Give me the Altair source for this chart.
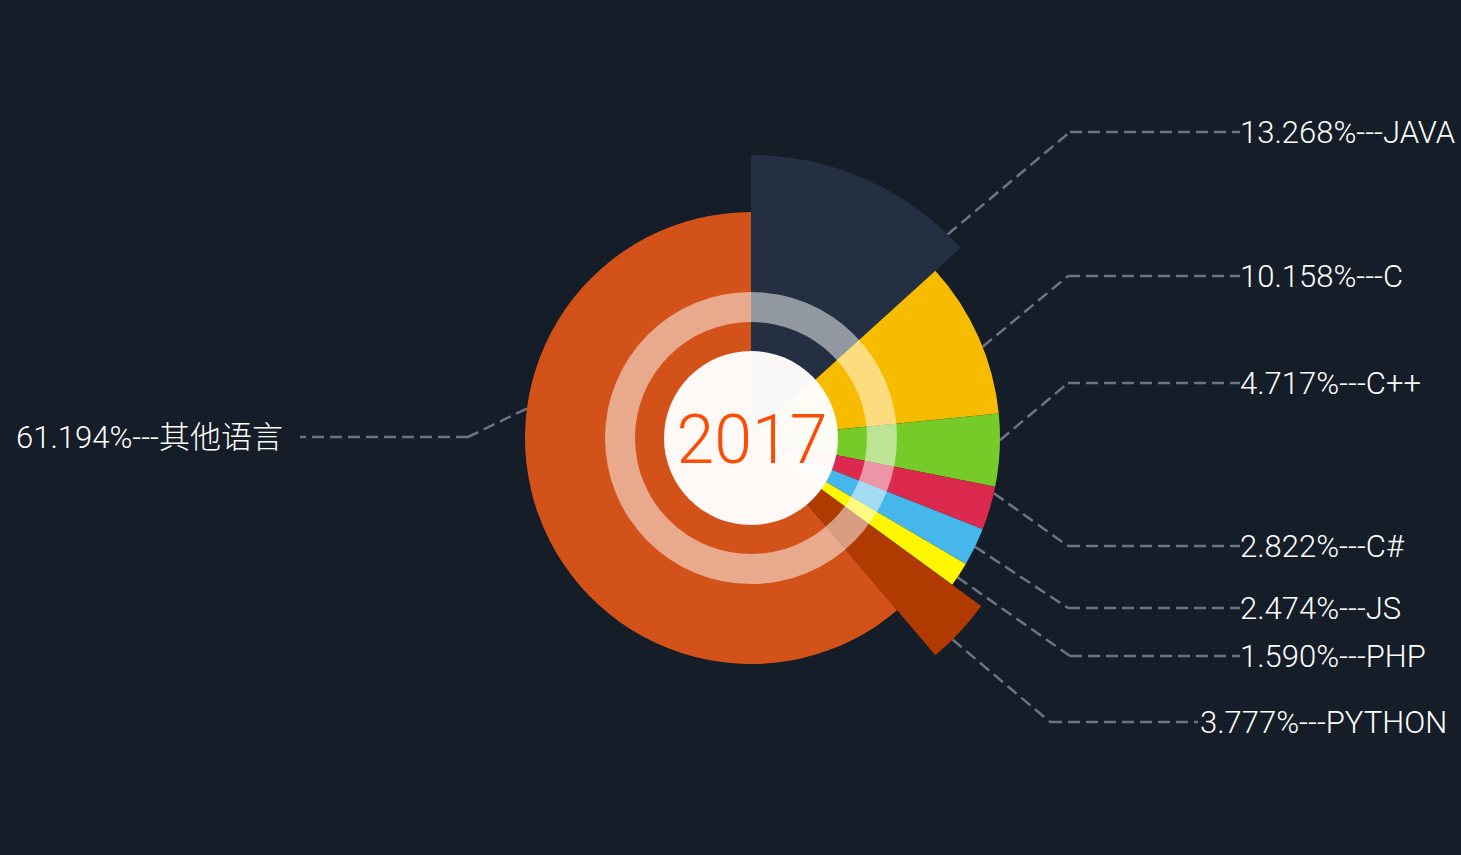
import math
import altair as alt
import pandas as pd

# ---------------- data ----------------
languages = ["JAVA", "C", "C++", "C#", "JS", "PHP", "PYTHON", "其他语言"]
shares = [13.268, 10.158, 4.717, 2.822, 2.474, 1.590, 3.777, 61.194]
center_label = "2017"

# ---------------- style / layout ----------------
colors = ["#243042", "#f7bb00", "#76cb28", "#db2a4d", "#46b7ea", "#fff700", "#b03a00", "#d35219"]
outer_radius = [283, 249, 249, 249, 249, 249, 285, 226]
anchor_deg = [44, 68.5, 90.5, 102.8, 115.9, 124, 135, 277.5]
label_line_y = [132, 276, 383, 546, 608, 656, 722, 437]
knee_x = [1070, 1068, 1068, 1068, 1068, 1070, 1050, 468]
line_end_x = [1240, 1240, 1240, 1240, 1240, 1240, 1198, 300]
text_x = [1240, 1240, 1240, 1240, 1240, 1240, 1200, 16]

W, H = 1461, 855
CX, CY = 751, 438
BG = "#151d28"
FONT = "Roboto, Noto Sans CJK SC, sans-serif"
LABEL_SIZE = 31

slices = pd.DataFrame({
    "idx": list(range(len(languages))),
    "language": languages,
    "share": shares,
    "color": colors,
    "r": outer_radius,
})

# leader line segments
segs = []
for i in range(len(languages)):
    a = math.radians(anchor_deg[i])
    sx = CX + outer_radius[i] * math.sin(a)
    sy = CY - outer_radius[i] * math.cos(a)
    ky = label_line_y[i]
    segs.append({"x": sx, "y": sy, "x2": knee_x[i], "y2": ky})
    segs.append({"x": knee_x[i], "y": ky, "x2": line_end_x[i], "y2": ky})
segs = pd.DataFrame(segs)

labels = pd.DataFrame({
    "text": [f"{s:.3f}%---{n}" for s, n in zip(shares, languages)],
    "x": text_x,
    "y": [v + 11 for v in label_line_y],
})

lines = alt.Chart(segs).mark_rule(
    color="#6c757f", strokeWidth=2.5, strokeDash=[12, 6]
).encode(
    x=alt.X("x:Q", scale=None), y=alt.Y("y:Q", scale=None),
    x2="x2:Q", y2="y2:Q",
)

pie = alt.Chart(slices).transform_window(
    end="sum(share)", sort=[alt.SortField("idx", order="ascending")], frame=[None, 0]
).transform_calculate(
    start="datum.end - datum.share"
).mark_arc().encode(
    theta=alt.Theta("start:Q", scale=alt.Scale(domain=[0, 100], range=[0, 2 * math.pi])),
    theta2="end:Q",
    radius=alt.Radius("r:Q", scale=None),
    radius2=alt.value(0),
    color=alt.Color("color:N", scale=None),
    x=alt.value(CX), y=alt.value(CY),
)

one = pd.DataFrame({"k": [0]})
ring = alt.Chart(one).mark_arc(
    theta=0, theta2=2 * math.pi, radius=146, radius2=116, color="#ffffff", opacity=0.5
).encode(x=alt.value(CX), y=alt.value(CY))

disc = alt.Chart(one).mark_arc(
    theta=0, theta2=2 * math.pi, radius=87, radius2=0, color="#fffdfb", opacity=0.98
).encode(x=alt.value(CX), y=alt.value(CY))

center_text = alt.Chart(pd.DataFrame({"t": [center_label]})).mark_text(
    font=FONT, fontSize=68, fontWeight=300, color="#fb4c06", align="center", baseline="alphabetic"
).encode(text="t:N", x=alt.value(752), y=alt.value(463))

label_text = alt.Chart(labels).mark_text(
    font=FONT, fontSize=LABEL_SIZE, fontWeight=300, color="#ffffff", align="left", baseline="alphabetic"
).encode(
    x=alt.X("x:Q", scale=None), y=alt.Y("y:Q", scale=None), text="text:N"
)

chart = alt.layer(
    lines, pie, ring, disc, center_text, label_text
).properties(
    width=W, height=H, background=BG, padding=0, autosize="none"
).configure_view(stroke=None)

chart.save("out.html", embed_options={"renderer": "svg", "actions": False})
